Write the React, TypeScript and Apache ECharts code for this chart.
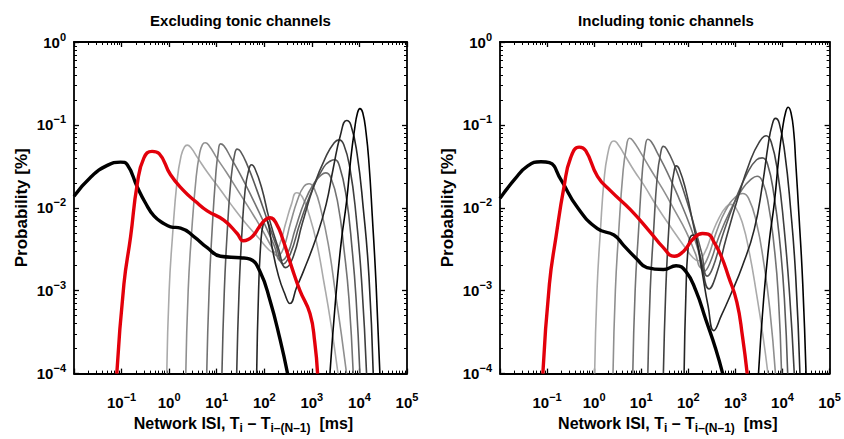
import React, { useEffect, useRef } from "react";
import * as echarts from "echarts";

type Pt = [number, number];

const FONT = '"Liberation Sans", Arial, Helvetica, sans-serif';
const PANEL_TITLES = ["Excluding tonic channels", "Including tonic channels"];
const X_RANGE = [0.01, 100000];
const Y_RANGE = [0.0001, 1];
const THIN_COLORS = ["#aaaaaa", "#8f8f8f", "#737373", "#595959", "#3f3f3f", "#252525", "#000000"];
const RED = "#e3000b";

// ---------- Excluding tonic channels ----------
const EX_BLACK: Pt[] = [
  [0.01, 0.0138], [0.0224, 0.0234], [0.0501, 0.0325], [0.0955, 0.0356], [0.132, 0.033],
  [0.214, 0.0178], [0.316, 0.0115], [0.479, 0.008], [0.794, 0.0064], [1.07, 0.0059],
  [1.74, 0.0057], [3.31, 0.0045], [6.31, 0.0033], [12.0, 0.0026], [31.6, 0.0025],
  [50.1, 0.0024], [81.3, 0.0017], [132, 0.00076], [214, 0.00026], [309, 0.0001],
];
const EX_RED: Pt[] = [
  [0.0794, 0.0001], [0.112, 0.0012], [0.155, 0.0045], [0.214, 0.0195], [0.295, 0.04],
  [0.437, 0.048], [0.617, 0.045], [1.07, 0.025], [2.04, 0.016], [3.55, 0.012],
  [6.31, 0.0092], [14.1, 0.0071], [26.9, 0.0049], [36.3, 0.004], [56.2, 0.0045],
  [89.1, 0.0065], [132, 0.0076], [178, 0.0065], [251, 0.004], [380, 0.0019],
  [562, 0.001], [912, 0.00053], [1150, 0.00024], [1320, 0.0001],
];
const EX_N3: Pt[] = [
  [0.891, 0.0001], [1.0, 0.001], [1.175, 0.0045], [1.479, 0.022], [1.778, 0.042],
  [2.089, 0.054], [2.399, 0.057], [2.884, 0.053], [3.981, 0.04], [6.31, 0.027],
  [10, 0.019], [19.95, 0.011], [39.81, 0.0066], [79.43, 0.0042], [125.9, 0.0031],
  [158.5, 0.0029], [208.9, 0.0036], [281.8, 0.0065], [371.5, 0.011], [478.6, 0.0152],
  [631, 0.0135], [891, 0.008], [1259, 0.0038], [1778, 0.0013], [2512, 0.0004], [3548, 0.0001],
];
const EX_N4: Pt[] = [
  [2.239, 0.0001], [2.512, 0.001], [2.951, 0.0048], [3.715, 0.024], [4.365, 0.045],
  [5.012, 0.058], [5.754, 0.061], [6.918, 0.056], [10, 0.04], [15.85, 0.027],
  [28.18, 0.016], [50.12, 0.0095], [89.13, 0.0055], [141.3, 0.0034], [190.5, 0.0026],
  [251.2, 0.0032], [354.8, 0.0065], [501.2, 0.0125], [676.1, 0.018], [871, 0.0195],
  [1122, 0.017], [1585, 0.009], [2239, 0.0035], [3162, 0.0009], [4169, 0.0003], [5370, 0.0001],
];
const EX_N5: Pt[] = [
  [6.166, 0.0001], [6.918, 0.001], [7.943, 0.005], [9.55, 0.025], [10.72, 0.046],
  [12.02, 0.059], [14.13, 0.056], [19.95, 0.04], [31.62, 0.025], [56.23, 0.013],
  [100, 0.0065], [158.5, 0.0036], [223.9, 0.0023], [302, 0.0027], [446.7, 0.0055],
  [707.9, 0.012], [1122, 0.02], [1585, 0.025], [1950, 0.0264], [2512, 0.023],
  [3548, 0.011], [4786, 0.003], [6026, 0.0008], [7413, 0.0001],
];
const EX_N6: Pt[] = [
  [12.88, 0.0001], [14.45, 0.001], [16.6, 0.005], [19.95, 0.022], [23.44, 0.042],
  [26.92, 0.051], [31.62, 0.048], [44.67, 0.032], [70.79, 0.016], [112.2, 0.0075],
  [177.8, 0.0035], [251.2, 0.0021], [354.8, 0.0028], [562.3, 0.0065], [1000, 0.016],
  [1778, 0.031], [2512, 0.037], [3020, 0.038], [3802, 0.032], [5248, 0.014],
  [7079, 0.003], [8511, 0.0008], [10230, 0.0001],
];
const EX_N7: Pt[] = [
  [26.3, 0.0001], [29.51, 0.001], [33.88, 0.005], [39.81, 0.017], [46.77, 0.028],
  [53.7, 0.033], [63.1, 0.03], [89.13, 0.017], [125.9, 0.0075], [199.5, 0.0032],
  [281.8, 0.0019], [398.1, 0.0025], [631, 0.0065], [1122, 0.019], [1995, 0.042],
  [2951, 0.061], [3715, 0.066], [4677, 0.058], [6310, 0.03], [8511, 0.008],
  [11220, 0.0012], [14130, 0.0001],
];
const EX_N8: Pt[] = [
  [69.18, 0.0001], [75.86, 0.001], [85.11, 0.004], [95.5, 0.0065], [107.2, 0.0072],
  [123, 0.0062], [147.9, 0.0032], [199.5, 0.0015], [263, 0.00095], [346.7, 0.0007],
  [478.6, 0.0011], [660.7, 0.0017], [1259, 0.0045], [1995, 0.011], [2818, 0.03],
  [3981, 0.075], [5370, 0.113], [6607, 0.1], [8913, 0.045], [12020, 0.01],
  [15850, 0.0015], [19500, 0.0001],
];
const EX_N9: Pt[] = [
  [2399, 0.0001], [3162, 0.0008], [4169, 0.004], [5370, 0.012], [6607, 0.04],
  [7943, 0.09], [9120, 0.14], [10230, 0.157], [11750, 0.14], [13800, 0.08],
  [15850, 0.035], [18620, 0.008], [22390, 0.0012], [26920, 0.0001],
];

// ---------- Including tonic channels ----------
const IN_BLACK: Pt[] = [
  [0.01, 0.013], [0.0204, 0.022], [0.0389, 0.032], [0.0741, 0.036], [0.112, 0.035],
  [0.195, 0.022], [0.447, 0.01], [1.175, 0.0056], [2.63, 0.0047], [4.266, 0.0035],
  [8.128, 0.0024], [13.18, 0.0019], [29.51, 0.0018], [54.95, 0.002], [89.13, 0.0017],
  [144.5, 0.001], [234.4, 0.00045], [380.2, 0.0002], [537, 0.0001],
];
const IN_RED: Pt[] = [
  [0.0813, 0.0001], [0.112, 0.0012], [0.155, 0.0045], [0.229, 0.018], [0.316, 0.04],
  [0.479, 0.054], [0.661, 0.049], [1.175, 0.024], [2.239, 0.016], [5.888, 0.0095],
  [15.49, 0.0051], [28.18, 0.0034], [50.12, 0.0026], [79.43, 0.003], [125.9, 0.0042],
  [199.5, 0.0049], [263, 0.0048], [354.8, 0.0038], [501.2, 0.0026], [707.9, 0.0015],
  [1072, 0.00073], [1413, 0.00028], [1778, 0.0001],
];
const IN_N3: Pt[] = [
  [1.023, 0.0001], [1.148, 0.001], [1.349, 0.005], [1.66, 0.025], [1.995, 0.048],
  [2.291, 0.061], [2.63, 0.064], [3.162, 0.059], [4.467, 0.043], [7.079, 0.028],
  [11.22, 0.019], [22.39, 0.01], [44.67, 0.0056], [89.13, 0.0032], [125.9, 0.0025],
  [158.5, 0.0023], [223.9, 0.0029], [316.2, 0.0048], [446.7, 0.0075], [631, 0.0102],
  [794.3, 0.011], [1000, 0.0102], [1413, 0.0065], [1995, 0.0028], [2818, 0.0009],
  [3802, 0.0003], [4898, 0.0001],
];
const IN_N4: Pt[] = [
  [2.512, 0.0001], [2.818, 0.001], [3.311, 0.005], [4.074, 0.026], [4.786, 0.052],
  [5.623, 0.069], [6.607, 0.065], [10, 0.045], [15.85, 0.029], [28.18, 0.017],
  [50.12, 0.0095], [89.13, 0.0052], [141.3, 0.0028], [186.2, 0.0019], [251.2, 0.0024],
  [398.1, 0.0052], [631, 0.0095], [1000, 0.0135], [1413, 0.0149], [1905, 0.013],
  [2818, 0.0065], [3981, 0.0022], [5370, 0.0006], [7079, 0.0001],
];
const IN_N5: Pt[] = [
  [6.607, 0.0001], [7.413, 0.001], [8.71, 0.005], [10.47, 0.026], [12.02, 0.052],
  [13.8, 0.067], [16.22, 0.063], [22.39, 0.045], [35.48, 0.027], [63.1, 0.013],
  [112.2, 0.0058], [158.5, 0.0032], [213.8, 0.0017], [281.8, 0.0021], [446.7, 0.0045],
  [794.3, 0.0095], [1413, 0.017], [2239, 0.0225], [2884, 0.024], [3715, 0.021],
  [5012, 0.011], [6607, 0.0035], [8128, 0.0009], [9550, 0.0001],
];
const IN_N6: Pt[] = [
  [13.8, 0.0001], [15.49, 0.001], [18.2, 0.005], [21.88, 0.024], [25.7, 0.045],
  [29.51, 0.055], [34.67, 0.051], [50.12, 0.033], [79.43, 0.016], [125.9, 0.0068],
  [190.5, 0.0029], [251.2, 0.0015], [331.1, 0.0019], [524.8, 0.0045], [1000, 0.0125],
  [1778, 0.026], [2818, 0.038], [3715, 0.04], [4786, 0.034], [6607, 0.014],
  [8913, 0.0035], [10960, 0.0008], [12880, 0.0001],
];
const IN_N7: Pt[] = [
  [29.51, 0.0001], [33.11, 0.001], [38.02, 0.005], [44.67, 0.018], [50.12, 0.028],
  [54.95, 0.032], [64.57, 0.029], [89.13, 0.016], [125.9, 0.0065], [190.5, 0.0022],
  [275.4, 0.00105], [398.1, 0.0016], [631, 0.0042], [1122, 0.013], [1995, 0.035],
  [3162, 0.061], [4467, 0.074], [5754, 0.062], [7943, 0.026], [10720, 0.006],
  [14130, 0.0009], [17780, 0.0001],
];
const IN_N8: Pt[] = [
  [81.28, 0.0001], [89.13, 0.001], [100, 0.0035], [114.8, 0.0046], [131.8, 0.0047],
  [154.9, 0.0038], [199.5, 0.0016], [263, 0.00065], [346.7, 0.00033], [501.2, 0.0005],
  [794.3, 0.0009], [1413, 0.002], [2512, 0.0055], [3802, 0.02], [5012, 0.06],
  [6026, 0.1], [7079, 0.12], [8511, 0.105], [11220, 0.045], [14790, 0.01],
  [19050, 0.0015], [23440, 0.0001],
];
const IN_N9: Pt[] = [
  [3090, 0.0001], [3981, 0.0008], [5248, 0.004], [6761, 0.012], [8318, 0.04],
  [10000, 0.09], [11750, 0.145], [13180, 0.163], [15140, 0.14], [17380, 0.08],
  [19050, 0.036], [22390, 0.008], [26920, 0.0012], [31620, 0.0001],
];

const PANELS = [
  { black: EX_BLACK, red: EX_RED, thin: [EX_N3, EX_N4, EX_N5, EX_N6, EX_N7, EX_N8, EX_N9] },
  { black: IN_BLACK, red: IN_RED, thin: [IN_N3, IN_N4, IN_N5, IN_N6, IN_N7, IN_N8, IN_N9] },
];

const GRIDS = [
  { left: 74, top: 42, width: 333, height: 346 },
  { left: 500, top: 42, width: 332, height: 346 },
];

const expLabel = (v: number) => {
  const e = Math.round(Math.log10(v));
  return `{b|10}{e|${e < 0 ? "\u2212" + -e : e}}`;
};

const tickRich = {
  b: { fontSize: 15, fontWeight: "bold", fontFamily: FONT, color: "#000" },
  e: { fontSize: 11, fontWeight: "bold", fontFamily: FONT, color: "#000", padding: [0, 0, 11, 0] },
};

function axisBase(range: number[], grid: number) {
  return {
    type: "log",
    logBase: 10,
    min: range[0],
    max: range[1],
    gridIndex: grid,
    splitLine: { show: false },
    minorSplitLine: { show: false },
    axisLine: { show: true, lineStyle: { color: "#000", width: 1.8 } },
    axisTick: { show: true, inside: true, length: 5, lineStyle: { color: "#000", width: 1.3 } },
    minorTick: { show: true, splitNumber: 9, length: 3, lineStyle: { color: "#000", width: 1 } },
  };
}

export default function App() {
  const ref = useRef<HTMLDivElement>(null);
  useEffect(() => {
    if (!ref.current) return;
    const chart = echarts.init(ref.current, undefined, { renderer: "svg" });
    const xAxis: any[] = [];
    const yAxis: any[] = [];
    const series: any[] = [];
    PANELS.forEach((p, g) => {
      xAxis.push({
        ...axisBase(X_RANGE, g),
        position: "bottom",
        axisLabel: { show: true, formatter: expLabel, rich: tickRich, margin: 18, showMinLabel: false },
        name: "{n|Network ISI, T}{s|i}{n| \u2013 T}{s|i\u2013(N\u20131)}{n|  [ms]}",
        nameLocation: "middle",
        nameGap: 36,
        nameTextStyle: {
          padding: [0, 0, 0, 6],
          rich: {
            n: { fontSize: 16, fontWeight: "bold", fontFamily: FONT, color: "#000" },
            s: { fontSize: 12, fontWeight: "bold", fontFamily: FONT, color: "#000", padding: [10, 0, 0, 0] },
          },
        },
      });
      xAxis.push({ ...axisBase(X_RANGE, g), position: "top", axisLabel: { show: false } });
      yAxis.push({
        ...axisBase(Y_RANGE, g),
        position: "left",
        axisLabel: { show: true, formatter: expLabel, rich: tickRich, margin: 8 },
        name: "Probability [%]",
        nameLocation: "middle",
        nameGap: 44,
        nameRotate: 90,
        nameTextStyle: { fontSize: 17, fontWeight: "bold", fontFamily: FONT, color: "#000" },
      });
      yAxis.push({ ...axisBase(Y_RANGE, g), position: "right", axisLabel: { show: false } });
      const xi = g * 2;
      const yi = g * 2;
      p.thin.forEach((d, k) => {
        series.push({
          type: "line", xAxisIndex: xi, yAxisIndex: yi, data: d, showSymbol: false, symbol: "none",
          smooth: 0.5,
          lineStyle: { color: THIN_COLORS[k], width: 1.6 }, z: 2,
        });
      });
      series.push({
        type: "line", xAxisIndex: xi, yAxisIndex: yi, data: p.black, showSymbol: false, symbol: "none",
        smooth: 0.5, lineStyle: { color: "#000", width: 3.4 }, z: 3,
      });
      series.push({
        type: "line", xAxisIndex: xi, yAxisIndex: yi, data: p.red, showSymbol: false, symbol: "none",
        smooth: 0.5, lineStyle: { color: RED, width: 3.4 }, z: 4,
      });
    });
    chart.setOption({
      animation: false,
      backgroundColor: "#fff",
      grid: GRIDS,
      xAxis,
      yAxis,
      series,
      graphic: PANEL_TITLES.map((t, i) => ({
        type: "text",
        x: GRIDS[i].left + GRIDS[i].width / 2,
        y: 20,
        style: {
          text: t,
          font: `bold 15px ${FONT}`,
          fill: "#000",
          textAlign: "center",
          textVerticalAlign: "middle",
          align: "center",
          verticalAlign: "middle",
        },
      })),
    });
    return () => chart.dispose();
  }, []);
  return (
    <div
      ref={ref}
      style={{ position: "fixed", left: 0, top: 0, width: 844, height: 439, background: "#fff" }}
    />
  );
}
